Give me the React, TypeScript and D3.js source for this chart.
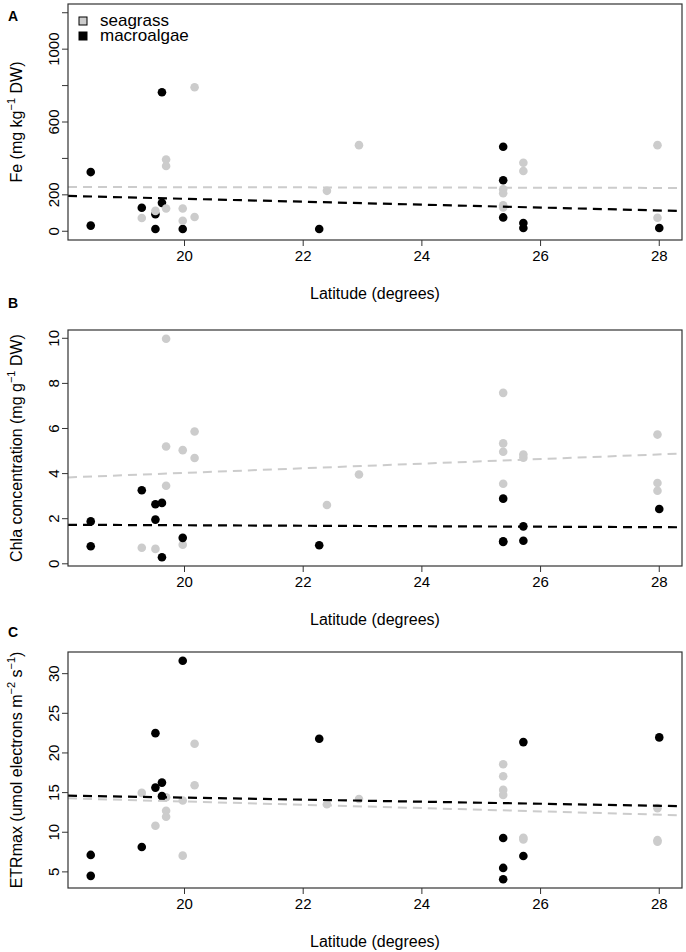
import * as d3 from 'd3';

const seagrassLatA = [19.28, 19.51, 19.69, 19.69, 19.69, 19.97, 19.97, 20.17, 20.17, 22.4, 22.94, 25.37, 25.37, 25.37, 25.37, 25.71, 25.71, 27.97, 27.97];
const seagrassFe = [73, 112, 125, 394, 358, 125, 58, 791, 78, 222, 473, 231, 209, 143, 131, 376, 331, 473, 74];
const macroLatA = [18.42, 18.42, 19.28, 19.51, 19.51, 19.62, 19.62, 19.97, 22.27, 25.37, 25.37, 25.37, 25.71, 25.71, 28.0];
const macroFe = [325, 31, 129, 94, 12, 763, 156, 12, 12, 464, 280, 76, 45, 18, 18];

const seagrassLatB = [19.28, 19.51, 19.69, 19.69, 19.69, 19.97, 19.97, 20.17, 20.17, 22.4, 22.94, 25.37, 25.37, 25.37, 25.37, 25.71, 25.71, 27.97, 27.97, 27.97];
const seagrassChla = [0.71, 0.66, 9.98, 5.2, 3.46, 5.04, 0.85, 5.87, 4.69, 2.61, 3.96, 7.58, 5.34, 4.97, 3.55, 4.85, 4.7, 5.73, 3.58, 3.24];
const macroLatB = [18.42, 18.42, 19.28, 19.51, 19.51, 19.62, 19.62, 19.97, 22.27, 25.37, 25.37, 25.37, 25.71, 25.71, 28.0];
const macroChla = [1.88, 0.78, 3.26, 2.64, 1.96, 2.7, 0.29, 1.15, 0.82, 2.89, 0.97, 1.0, 1.66, 1.02, 2.43];

const seagrassLatC = [19.28, 19.51, 19.69, 19.69, 19.69, 19.97, 19.97, 20.17, 20.17, 22.4, 22.94, 25.37, 25.37, 25.37, 25.37, 25.71, 25.71, 27.97, 27.97, 27.97];
const seagrassEtr = [14.96, 10.82, 14.42, 12.7, 11.95, 14.0, 7.05, 21.16, 15.93, 13.54, 14.2, 18.57, 17.06, 15.34, 14.71, 9.3, 9.1, 13.04, 9.0, 8.8];
const macroLatC = [18.42, 18.42, 19.28, 19.51, 19.51, 19.62, 19.62, 19.97, 22.27, 25.37, 25.37, 25.37, 25.71, 25.71, 28.0];
const macroEtr = [7.14, 4.5, 8.14, 22.5, 15.63, 16.26, 14.55, 31.63, 21.8, 9.27, 5.5, 4.07, 21.37, 7.0, 21.96];

// linear fits [intercept, slope] per panel A, B, C
const seagrassFit = [[251.7, -0.484], [1.979, 0.1026], [18.01, -0.2068]];
const macroFit = [[338.9, -8.03], [1.922, -0.01065], [16.94, -0.1287]];

const latTicks = [20, 22, 24, 26, 28];
const feTicks = [0, 200, 400, 600, 800, 1000, 1200];
const feTickLabels = ['0', '200', '', '600', '', '1000', ''];
const chlaTicks = [0, 2, 4, 6, 8, 10];
const etrTicks = [5, 10, 15, 20, 25, 30];

const W = 686;
const H = 952;
const LEFT = 68;
const RIGHT = 682;
const PANEL_H = 236;
const FONT = '"Liberation Sans", Arial, Helvetica, sans-serif';
const GREY = '#cccccc';
const R = 4.3;

// R-style 4% padding of the axis range
const pad = (lo: number, hi: number) => {
  const d = (hi - lo) * 0.04;
  return [lo - d, hi + d];
};

const allLat = [...seagrassLatA, ...macroLatA];
const x = d3.scaleLinear().domain(pad(d3.min(allLat)!, d3.max(allLat)!)).range([LEFT, RIGHT]);

type Title = { parts: { t: string; sup?: boolean }[] };

interface PanelProps {
  top: number;
  letter: string;
  letterY: number;
  sLat: number[];
  sVal: number[];
  mLat: number[];
  mVal: number[];
  yDomain: number[];
  ticks: number[];
  tickLabels?: string[];
  sFit: number[];
  mFit: number[];
  title: Title;
  seagrassOnTop?: boolean;
  legend?: boolean;
}

function Panel(p: PanelProps) {
  const bottom = p.top + PANEL_H;
  const y = d3.scaleLinear().domain(p.yDomain).range([bottom, p.top]);
  const xd = x.domain();
  const fitLine = (f: number[]) =>
    d3.line<number>().x((v) => x(v)).y((v) => y(f[0] + f[1] * v))(xd) ?? '';
  const seagrass = p.sLat.map((lat, i) => (
    <circle key={`s${i}`} cx={x(lat)} cy={y(p.sVal[i])} r={R} fill={GREY} />
  ));
  const macro = p.mLat.map((lat, i) => (
    <circle key={`m${i}`} cx={x(lat)} cy={y(p.mVal[i])} r={R} fill="#000" />
  ));
  const cy = (p.top + bottom) / 2;
  return (
    <g fontFamily={FONT}>
      <text x={8} y={p.letterY} fontSize={14} fontWeight="bold">{p.letter}</text>
      <clipPath id={`clip${p.letter}`}>
        <rect x={LEFT} y={p.top} width={RIGHT - LEFT} height={PANEL_H} />
      </clipPath>
      <g clipPath={`url(#clip${p.letter})`}>
        {p.seagrassOnTop ? [macro, seagrass] : [seagrass, macro]}
        <path d={fitLine(p.sFit)} fill="none" stroke={GREY} strokeWidth={2} strokeDasharray="9,6" />
        <path d={fitLine(p.mFit)} fill="none" stroke="#000" strokeWidth={2.2} strokeDasharray="9,6" />
      </g>
      <rect x={LEFT} y={p.top} width={RIGHT - LEFT} height={PANEL_H} fill="none" stroke="#333" strokeWidth={1.2} />
      {/* x axis */}
      {latTicks.map((t) => (
        <g key={t}>
          <line x1={x(t)} x2={x(t)} y1={bottom} y2={bottom + 6} stroke="#333" />
          <text x={x(t)} y={bottom + 21} fontSize={15} textAnchor="middle">{t}</text>
        </g>
      ))}
      <text x={(LEFT + RIGHT) / 2} y={bottom + 59} fontSize={16} textAnchor="middle">Latitude (degrees)</text>
      {/* y axis */}
      {p.ticks.map((t, i) => (
        <g key={t}>
          <line x1={LEFT - 6} x2={LEFT} y1={y(t)} y2={y(t)} stroke="#333" />
          <text transform={`translate(58.5,${y(t)}) rotate(-90)`} fontSize={15} textAnchor="middle">
            {p.tickLabels ? p.tickLabels[i] : String(t)}
          </text>
        </g>
      ))}
      <text transform={`translate(22,${cy}) rotate(-90)`} fontSize={16} textAnchor="middle">
        {p.title.parts.map((s, i) =>
          s.sup ? (
            <tspan key={i} fontSize={11} dy={-7}>{s.t}</tspan>
          ) : (
            <tspan key={i} dy={i > 0 && p.title.parts[i - 1].sup ? 7 : 0}>{s.t}</tspan>
          )
        )}
      </text>
      {p.legend && (
        <g fontSize={17}>
          <rect x={79} y={p.top + 13} width={8} height={8} fill={GREY} stroke="#000" strokeWidth={1} />
          <rect x={79} y={p.top + 28} width={8} height={8} fill="#000" stroke="#000" strokeWidth={1} />
          <text x={100} y={p.top + 22}>seagrass</text>
          <text x={100} y={p.top + 37}>macroalgae</text>
        </g>
      )}
    </g>
  );
}

export default function App() {
  const chlaAll = [...seagrassChla, ...macroChla];
  const etrAll = [...seagrassEtr, ...macroEtr];
  return (
    <div>
      <style>{'body{margin:0}'}</style>
      <svg width={W} height={H} style={{ display: 'block', background: '#fff' }}>
        <Panel
          top={4}
          letter="A"
          letterY={21}
          sLat={seagrassLatA}
          sVal={seagrassFe}
          mLat={macroLatA}
          mVal={macroFe}
          yDomain={pad(0, 1200)}
          ticks={feTicks}
          tickLabels={feTickLabels}
          sFit={seagrassFit[0]}
          mFit={macroFit[0]}
          seagrassOnTop
          legend
          title={{ parts: [{ t: 'Fe (mg kg' }, { t: '−1', sup: true }, { t: ' DW)' }] }}
        />
        <Panel
          top={330}
          letter="B"
          letterY={308}
          sLat={seagrassLatB}
          sVal={seagrassChla}
          mLat={macroLatB}
          mVal={macroChla}
          yDomain={pad(d3.min(chlaAll)!, d3.max(chlaAll)!)}
          ticks={chlaTicks}
          sFit={seagrassFit[1]}
          mFit={macroFit[1]}
          title={{ parts: [{ t: 'Chla concentration (mg g' }, { t: '−1', sup: true }, { t: ' DW)' }] }}
        />
        <Panel
          top={652}
          letter="C"
          letterY={637}
          sLat={seagrassLatC}
          sVal={seagrassEtr}
          mLat={macroLatC}
          mVal={macroEtr}
          yDomain={pad(d3.min(etrAll)!, d3.max(etrAll)!)}
          ticks={etrTicks}
          sFit={seagrassFit[2]}
          mFit={macroFit[2]}
          title={{
            parts: [
              { t: 'ETRmax (umol electrons m' },
              { t: '−2', sup: true },
              { t: ' s' },
              { t: '−1', sup: true },
              { t: ')' },
            ],
          }}
        />
      </svg>
    </div>
  );
}
